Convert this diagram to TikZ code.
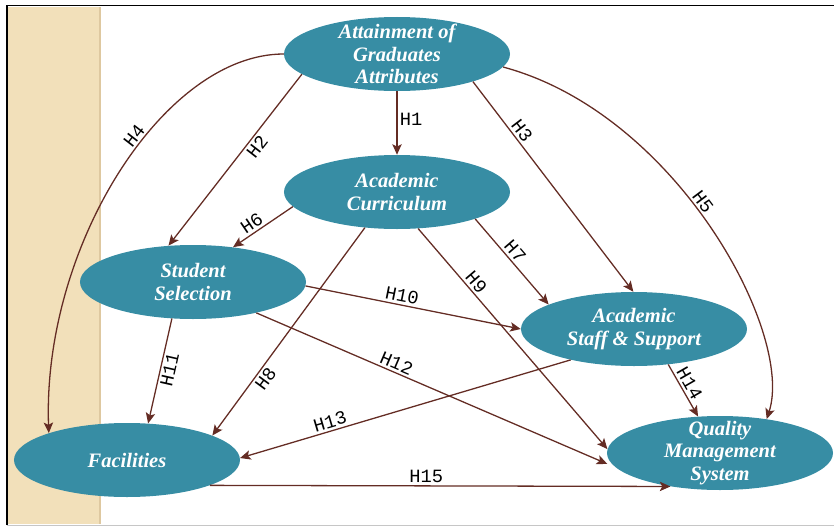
\documentclass[tikz,border=0pt]{standalone}
\usepackage{fontspec}
\setmainfont{Liberation Serif}
\newfontfamily\hypfont{Liberation Mono}
\usetikzlibrary{shapes.geometric,arrows.meta}

\definecolor{nodefill}{RGB}{55,141,164}
\definecolor{linkbrown}{RGB}{100,44,36}
\definecolor{stripbeige}{RGB}{242,224,186}
\definecolor{stripedge}{RGB}{222,200,160}

\begin{document}
\begin{tikzpicture}[x=0.03cm,y=0.03cm,
  construct/.style={ellipse, fill=nodefill, text=white,
    minimum width=6.78cm, minimum height=2.22cm,
    inner xsep=0pt, inner ysep=-10pt, align=center,
    font=\fontsize{17.5}{19}\selectfont\bfseries\itshape},
  link/.style={draw=linkbrown, line width=1.1pt,
    -{Stealth[length=9pt,width=8pt,inset=2pt]}},
  hyp/.style={font=\hypfont\fontsize{16}{16}\selectfont,
    text=black, inner sep=2pt}
]
\useasboundingbox (0,0) rectangle (834,-528);

% side band
\fill[stripbeige] (8,-7) rectangle (100,-524);
\draw[stripedge, line width=1pt] (100,-7) -- (100,-524);

% frame
\draw[gray!45, line width=0.8pt] (7,-525) -- (834,-525);
\draw[black, line width=1.6pt] (7,-525) -- (7,-5.5) -- (834,-5.5);

% constructs
\node[construct] (A) at (397,-54)  {Attainment of\\Graduates\\Attributes};
\node[construct] (C) at (397,-192) {Academic\\Curriculum};
\node[construct] (S) at (193,-282) {Student\\Selection};
\node[construct] (T) at (634,-329) {Academic\\Staff \& Support};
\node[construct] (F) at (127,-460) {Facilities};
\node[construct] (Q) at (720,-453) {Quality\\Management\\System};

% hypotheses
\draw[link] (A.south) -- node[hyp, pos=0.45, right] {H1} (C.north);
\draw[link] (A.192) -- node[hyp, sloped, pos=0.39, below] {H2} (S.124.7);
\draw[link] (A.-20.4) -- node[hyp, sloped, pos=0.26, above] {H3} (T.91);
\draw[link] (A.180) to[out=180, in=92, out distance=3.6cm, in distance=5.6cm]
  node[hyp, sloped, pos=0.42, above] {H4} (F.161.6);
\draw[link] (A.-7.7) to[out=-15, in=72, out distance=5.4cm, in distance=2.7cm]
  node[hyp, sloped, pos=0.45, above] {H5} (Q.36.4);
\draw[link] (C.188.6) -- node[hyp, sloped, pos=0.6, above] {H6} (S.41.7);
\draw[link] (C.-19.3) -- node[hyp, sloped, pos=0.45, above] {H7} (T.164.2);
\draw[link] (C.228) -- node[hyp, sloped, pos=0.7, below] {H8} (F.16.6);
\draw[link] (C.-60) -- node[hyp, sloped, pos=0.27, above] {H9} (Q.178);
\draw[link] (S.-2) -- node[hyp, sloped, pos=0.44, above] {H10} (T.180);
\draw[link] (S.-120) -- node[hyp, sloped, pos=0.47, below] {H11} (F.60);
\draw[link, shorten >=8pt] (S.-26.5) -- node[hyp, sloped, pos=0.38, above] {H12} (Q.188);
\draw[link] (T.-154) -- node[hyp, sloped, pos=0.72, above] {H13} (F.1);
\draw[link] (T.-46.2) -- node[hyp, sloped, pos=0.45, above] {H14} (Q.121.7);
\draw[link] (F.-17.9) -- node[hyp, sloped, pos=0.47, above] {H15} (Q.-146);
\end{tikzpicture}
\end{document}
